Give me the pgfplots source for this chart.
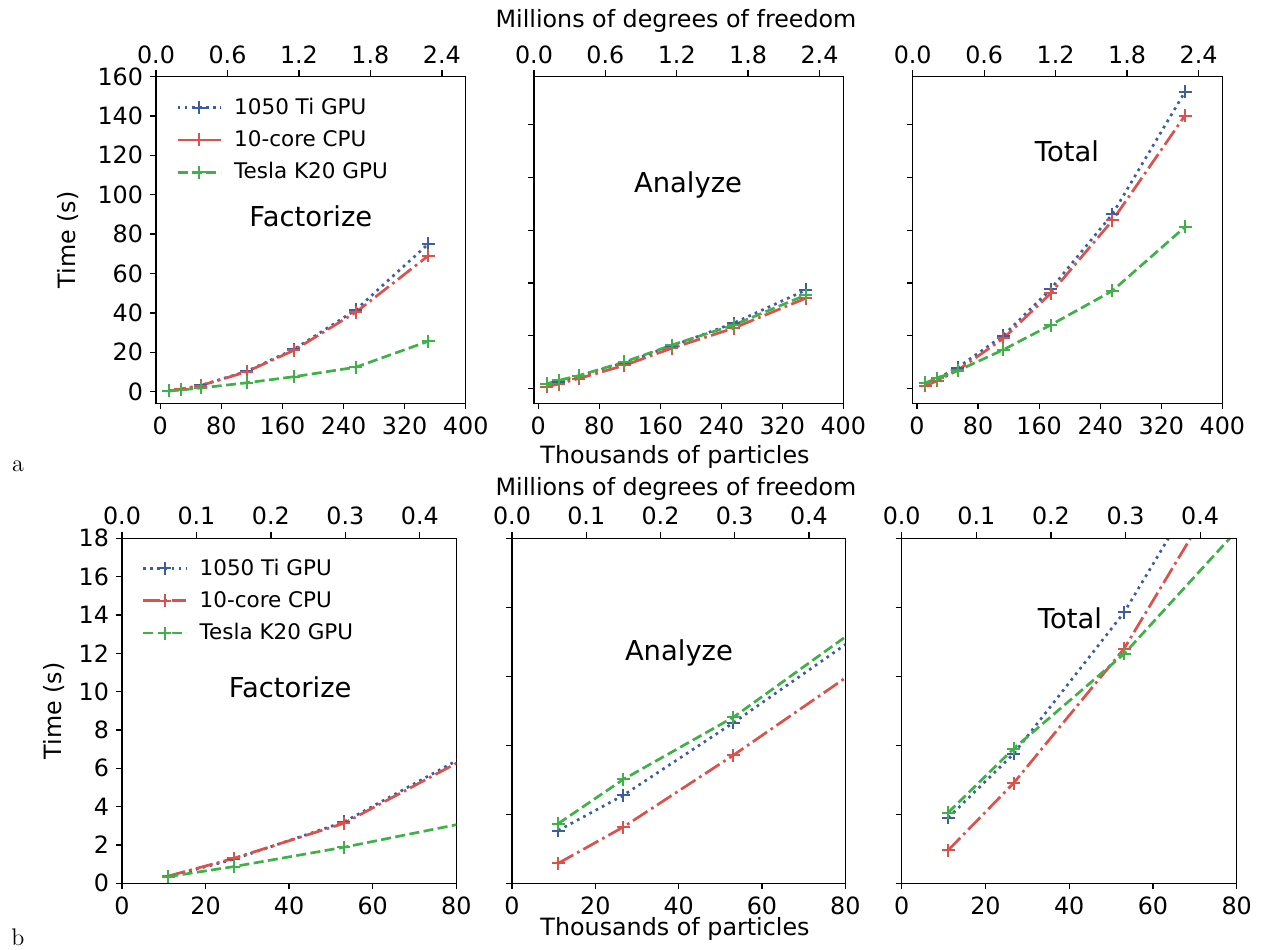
\documentclass[border=0pt]{standalone}
\usepackage{fontspec}
\usepackage{pgfplots}
\pgfplotsset{compat=1.18}
\newfontfamily\dejavu{DejaVu Sans}
\definecolor{cblue}{RGB}{62,92,160}
\definecolor{cred}{RGB}{218,82,75}
\definecolor{cgreen}{RGB}{64,176,72}
\newcommand{\tickfont}{\dejavu\fontsize{11.9}{14}\selectfont}
\newcommand{\legfont}{\dejavu\fontsize{10.75}{13}\selectfont}
\newcommand{\titlefont}{\dejavu\fontsize{13.7}{16}\selectfont}
\newcommand{\labfont}{\dejavu\fontsize{11.9}{14}\selectfont}
\pgfplotsset{
  common/.style={scale only axis, axis line style={line width=0.65pt},
    every tick/.style={black, line width=0.65pt}, major tick length=3pt,
    tick align=outside, ticklabel style={font=\tickfont},
    /pgf/number format/assume math mode=true},
  panel/.style={common, xtick pos=lower, ytick pos=left},
  topx/.style={common, axis x line*=top, axis y line=none, ymin=0, ymax=1},
  sb/.style={color=cblue, line width=1.35pt, dash pattern=on 1.35pt off 2.2pt,
    mark=+, mark size=3.25pt, mark options={solid, line width=1pt}},
  sr/.style={color=cred, line width=1.35pt, dash pattern=on 8.6pt off 2.2pt on 1.35pt off 2.2pt,
    mark=+, mark size=3.25pt, mark options={solid, line width=1pt}},
  sg/.style={color=cgreen, line width=1.35pt, dash pattern=on 5pt off 2.2pt,
    mark=+, mark size=3.25pt, mark options={solid, line width=1pt}},
  leg/.style={legend cell align=left,
    legend image code/.code={\draw[mark repeat=2,mark phase=2,##1] plot coordinates {(0pt,0pt)(10.8pt,0pt)(21.6pt,0pt)};},
    legend style={draw=none, fill=none, font=\legfont, row sep=2.6pt, column sep=4pt}},
}
\begin{document}
\begin{tikzpicture}
\useasboundingbox (0,0) rectangle (631pt,474.5pt);
% ================= Row a =================
% Factorize
\begin{axis}[panel, at={(78pt,272.85pt)}, anchor=south west, width=154.85pt, height=163.4pt,
  xmin=-5.6, xmax=400, ymin=-5.9, ymax=160, xtick={0,80,160,240,320,400}, ytick={0,20,...,160},
  leg, legend style={at={(0.045,0.96)}, anchor=north west}]
\addplot[sb] coordinates {(11.1,0.35)(26.7,1.25)(53.1,3.2)(113,10.3)(175,21.5)(256,41.5)(351,75.0)};
\addplot[sr] coordinates {(11.1,0.38)(26.7,1.3)(53.1,3.13)(113,10.1)(175,21.0)(256,40.3)(351,69.0)};
\addplot[sg] coordinates {(11.1,0.35)(26.7,0.87)(53.1,1.88)(113,4.5)(175,7.6)(256,12.4)(351,25.6)};
\legend{1050 Ti GPU, 10-core CPU, Tesla K20 GPU}
\node[font=\titlefont] at (rel axis cs:0.5,0.573) {Factorize};
\end{axis}
\begin{axis}[topx, at={(78pt,272.85pt)}, anchor=south west, width=154.85pt, height=163.4pt,
  xmin=0, xmax=2.6, xtick={0,0.6,1.2,1.8,2.4}, xticklabels={0.0,0.6,1.2,1.8,2.4}]
\end{axis}
% Analyze
\begin{axis}[panel, at={(267pt,272.85pt)}, anchor=south west, width=154.65pt, height=163.4pt,
  xmin=-5.6, xmax=400, ymin=-5.69, ymax=118.3, xtick={0,80,160,240,320,400}, ytick={0,20,...,100}, yticklabels={,,,,,,}]
\addplot[sb] coordinates {(11.1,1.53)(26.7,2.55)(53.1,4.65)(113,9.7)(175,16.0)(256,24.7)(351,37.3)};
\addplot[sr] coordinates {(11.1,0.58)(26.7,1.63)(53.1,3.71)(113,8.7)(175,15.2)(256,22.8)(351,34.2)};
\addplot[sg] coordinates {(11.1,1.73)(26.7,3.01)(53.1,4.81)(113,10.0)(175,16.4)(256,24.0)(351,35.4)};
\node[font=\titlefont] at (rel axis cs:0.498,0.668) {Analyze};
\end{axis}
\begin{axis}[topx, at={(267pt,272.85pt)}, anchor=south west, width=154.65pt, height=163.4pt,
  xmin=0, xmax=2.6, xtick={0,0.6,1.2,1.8,2.4}, xticklabels={0.0,0.6,1.2,1.8,2.4}]
\end{axis}
% Total
\begin{axis}[panel, at={(456.35pt,272.85pt)}, anchor=south west, width=154.85pt, height=163.4pt,
  xmin=-5.6, xmax=400, ymin=-5.69, ymax=118.3, xtick={0,80,160,240,320,400}, ytick={0,20,...,100}, yticklabels={,,,,,,}]
\addplot[sb] coordinates {(11.1,1.9)(26.7,3.75)(53.1,7.85)(113,20.0)(175,37.6)(256,66.1)(351,112.5)};
\addplot[sr] coordinates {(11.1,0.96)(26.7,2.9)(53.1,6.8)(113,18.9)(175,36.0)(256,63.7)(351,103.5)};
\addplot[sg] coordinates {(11.1,2.05)(26.7,3.9)(53.1,6.65)(113,14.6)(175,24.0)(256,37.0)(351,61.2)};
\node[font=\titlefont] at (rel axis cs:0.498,0.772) {Total};
\end{axis}
\begin{axis}[topx, at={(456.35pt,272.85pt)}, anchor=south west, width=154.85pt, height=163.4pt,
  xmin=0, xmax=2.6, xtick={0,0.6,1.2,1.8,2.4}, xticklabels={0.0,0.6,1.2,1.8,2.4}]
\end{axis}
% ================= Row b =================
\begin{axis}[panel, at={(61pt,32.85pt)}, anchor=south west, width=167.15pt, height=172.5pt,
  xmin=0, xmax=80, ymin=0, ymax=18, xtick={0,20,...,80}, ytick={0,2,...,18},
  leg, legend style={at={(0.04,0.965)}, anchor=north west}]
\addplot[sb] coordinates {(11.1,0.35)(26.7,1.25)(53.1,3.2)(113,10.3)(175,21.5)(256,41.5)(351,75.0)};
\addplot[sr] coordinates {(11.1,0.38)(26.7,1.3)(53.1,3.13)(113,10.1)(175,21.0)(256,40.3)(351,69.0)};
\addplot[sg] coordinates {(11.1,0.35)(26.7,0.87)(53.1,1.88)(113,4.5)(175,7.6)(256,12.4)(351,25.6)};
\legend{1050 Ti GPU, 10-core CPU, Tesla K20 GPU}
\node[font=\titlefont] at (rel axis cs:0.503,0.569) {Factorize};
\end{axis}
\begin{axis}[topx, at={(61pt,32.85pt)}, anchor=south west, width=167.15pt, height=172.5pt,
  xmin=0, xmax=0.449, xtick={0,0.1,0.2,0.3,0.4}, xticklabels={0.0,0.1,0.2,0.3,0.4}]
\end{axis}
\begin{axis}[panel, at={(256pt,32.85pt)}, anchor=south west, width=166.65pt, height=172.5pt,
  xmin=0, xmax=80, ymin=0, ymax=10, xtick={0,20,...,80}, ytick={0,2,...,10}, yticklabels={,,,,,,}]
\addplot[sb] coordinates {(11.1,1.53)(26.7,2.55)(53.1,4.65)(113,9.7)(175,16.0)(256,24.7)(351,37.3)};
\addplot[sr] coordinates {(11.1,0.58)(26.7,1.63)(53.1,3.71)(113,8.7)(175,15.2)(256,22.8)(351,34.2)};
\addplot[sg] coordinates {(11.1,1.73)(26.7,3.01)(53.1,4.81)(113,10.0)(175,16.4)(256,24.0)(351,35.4)};
\node[font=\titlefont] at (rel axis cs:0.501,0.668) {Analyze};
\end{axis}
\begin{axis}[topx, at={(256pt,32.85pt)}, anchor=south west, width=166.65pt, height=172.5pt,
  xmin=0, xmax=0.449, xtick={0,0.1,0.2,0.3,0.4}, xticklabels={0.0,0.1,0.2,0.3,0.4}]
\end{axis}
\begin{axis}[panel, at={(450.85pt,32.85pt)}, anchor=south west, width=167.5pt, height=172.5pt,
  xmin=0, xmax=80, ymin=0, ymax=10, xtick={0,20,...,80}, ytick={0,2,...,10}, yticklabels={,,,,,,}]
\addplot[sb] coordinates {(11.1,1.9)(26.7,3.75)(53.1,7.85)(113,20.0)(175,37.6)(256,66.1)(351,112.5)};
\addplot[sr] coordinates {(11.1,0.96)(26.7,2.9)(53.1,6.8)(113,18.9)(175,36.0)(256,63.7)(351,103.5)};
\addplot[sg] coordinates {(11.1,2.05)(26.7,3.9)(53.1,6.65)(113,14.6)(175,24.0)(256,37.0)(351,61.2)};
\node[font=\titlefont] at (rel axis cs:0.502,0.769) {Total};
\end{axis}
\begin{axis}[topx, at={(450.85pt,32.85pt)}, anchor=south west, width=167.5pt, height=172.5pt,
  xmin=0, xmax=0.449, xtick={0,0.1,0.2,0.3,0.4}, xticklabels={0.0,0.1,0.2,0.3,0.4}]
\end{axis}
% ================= labels =================
\node[font=\labfont, anchor=base] at (338pt,460.65pt) {Millions of degrees of freedom};
\node[font=\labfont, anchor=base] at (338pt,227pt) {Millions of degrees of freedom};
\node[font=\labfont, anchor=base] at (337.5pt,243pt) {Thousands of particles};
\node[font=\labfont, anchor=base] at (337.5pt,7pt) {Thousands of particles};
\node[font=\labfont, rotate=90] at (34.15pt,354.5pt) {Time (s)};
\node[font=\labfont, rotate=90] at (27pt,119.1pt) {Time (s)};
\node[font=\fontsize{12}{14}\selectfont, anchor=base] at (9pt,239pt) {a};
\node[font=\fontsize{12}{14}\selectfont, anchor=base] at (9pt,2pt) {b};
\end{tikzpicture}
\end{document}
